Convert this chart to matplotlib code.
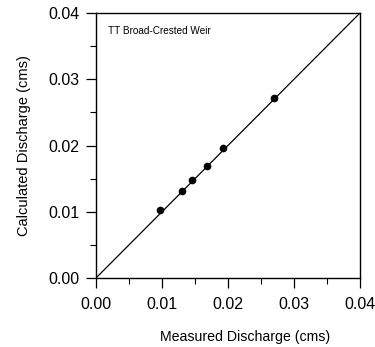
import matplotlib
matplotlib.use("Agg")
import matplotlib.pyplot as plt
from matplotlib.ticker import MultipleLocator

plt.rcParams['font.family'] = ['Liberation Sans', 'DejaVu Sans']

# measured vs calculated discharge (cms)
measured = [0.0097, 0.0130, 0.0145, 0.0168, 0.0193, 0.0270]
calculated = [0.0103, 0.0132, 0.0148, 0.0169, 0.0196, 0.0271]
line_xy = [0.0, 0.04]

fig = plt.figure(figsize=(3.75, 3.47), dpi=100)
ax = fig.add_axes([96/375, 1 - 278/347, 264/375, 265/347])

ax.plot(line_xy, line_xy, color='black', lw=0.9)
ax.plot(measured, calculated, 'o', color='black', ms=4.5)

ax.set_xlim(0, 0.04)
ax.set_ylim(0, 0.04)
ax.xaxis.set_major_locator(MultipleLocator(0.01))
ax.yaxis.set_major_locator(MultipleLocator(0.01))
ax.xaxis.set_minor_locator(MultipleLocator(0.005))
ax.yaxis.set_minor_locator(MultipleLocator(0.005))
ax.xaxis.set_major_formatter(lambda v, p: f"{v:.2f}")
ax.yaxis.set_major_formatter(lambda v, p: f"{v:.2f}")
ax.tick_params(which='major', direction='out', length=7, width=0.9, labelsize=11.5, pad=5)
ax.tick_params(axis='x', which='major', pad=7)
ax.tick_params(which='minor', direction='out', length=4, width=0.8)
for s in ax.spines.values():
    s.set_linewidth(1.0)

ax.text(0.045, 0.95, 'TT Broad-Crested Weir', transform=ax.transAxes,
        fontsize=7.2, va='top', ha='left')

ax.set_xlabel('Measured Discharge (cms)', fontsize=10.2)
ax.xaxis.set_label_coords(0.565, -0.195)
ax.set_ylabel('Calculated Discharge (cms)', fontsize=10.5, labelpad=12)

fig.savefig('out.png', dpi=100)
